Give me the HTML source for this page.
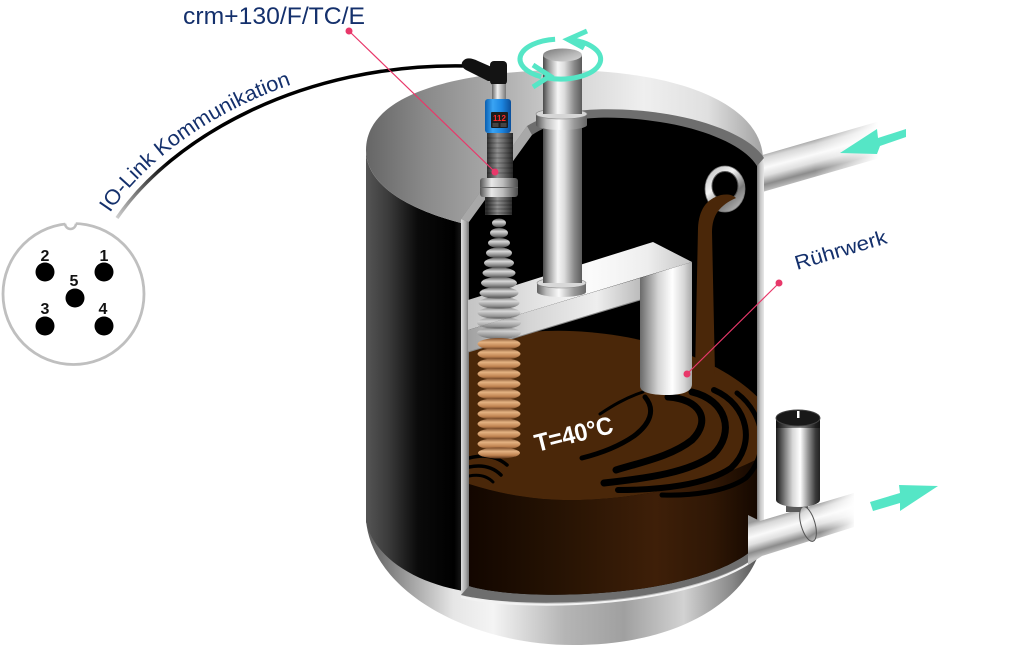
<!DOCTYPE html>
<html><head><meta charset="utf-8">
<style>
html,body{margin:0;padding:0;background:#fff;}
svg{display:block;}
</style></head><body>
<svg width="1024" height="645" viewBox="0 0 1024 645" xmlns="http://www.w3.org/2000/svg" font-family="Liberation Sans, sans-serif">
<defs>
<linearGradient id="gLid" gradientUnits="userSpaceOnUse" x1="366" y1="0" x2="763" y2="0">
<stop offset="0" stop-color="#666"/><stop offset=".15" stop-color="#8a8a8a"/><stop offset=".32" stop-color="#a9a9a9"/><stop offset=".5" stop-color="#d2d2d2"/><stop offset=".7" stop-color="#efefef"/><stop offset=".86" stop-color="#e0e0e0"/><stop offset="1" stop-color="#a2a2a2"/>
</linearGradient>
<linearGradient id="gBody" gradientUnits="userSpaceOnUse" x1="366" y1="0" x2="470" y2="0">
<stop offset="0" stop-color="#555"/><stop offset=".22" stop-color="#3a3a3a"/><stop offset=".5" stop-color="#0a0a0a"/><stop offset=".85" stop-color="#000"/><stop offset="1" stop-color="#333"/>
</linearGradient>
<linearGradient id="gDome" gradientUnits="userSpaceOnUse" x1="366" y1="0" x2="763" y2="0">
<stop offset="0" stop-color="#5a5a5a"/><stop offset=".1" stop-color="#9a9a9a"/><stop offset=".22" stop-color="#e6e6e6"/><stop offset=".32" stop-color="#f4f4f4"/><stop offset=".5" stop-color="#b5b5b5"/><stop offset=".65" stop-color="#a0a0a0"/><stop offset=".8" stop-color="#d2d2d2"/><stop offset=".92" stop-color="#8a8a8a"/><stop offset="1" stop-color="#4a4a4a"/>
</linearGradient>
<linearGradient id="gLeftBand" gradientUnits="userSpaceOnUse" x1="461" y1="0" x2="469" y2="0">
<stop offset="0" stop-color="#e0e0e0"/><stop offset=".6" stop-color="#a8a8a8"/><stop offset="1" stop-color="#707070"/>
</linearGradient>
<linearGradient id="gRightBand" gradientUnits="userSpaceOnUse" x1="757" y1="0" x2="764" y2="0">
<stop offset="0" stop-color="#7a7a7a"/><stop offset=".5" stop-color="#c8c8c8"/><stop offset="1" stop-color="#e8e8e8"/>
</linearGradient>
<linearGradient id="gLiqSide" gradientUnits="userSpaceOnUse" x1="468" y1="0" x2="757" y2="0">
<stop offset="0" stop-color="#120600"/><stop offset=".3" stop-color="#251203"/><stop offset=".65" stop-color="#3e1f08"/><stop offset=".85" stop-color="#2f1705"/><stop offset="1" stop-color="#150800"/>
</linearGradient>
<linearGradient id="gShaft" gradientUnits="userSpaceOnUse" x1="543" y1="0" x2="582" y2="0">
<stop offset="0" stop-color="#4a4a4a"/><stop offset=".15" stop-color="#9a9a9a"/><stop offset=".38" stop-color="#f6f6f6"/><stop offset=".55" stop-color="#dcdcdc"/><stop offset=".8" stop-color="#8a8a8a"/><stop offset="1" stop-color="#5a5a5a"/>
</linearGradient>
<linearGradient id="gCollar" gradientUnits="userSpaceOnUse" x1="536" y1="0" x2="587" y2="0">
<stop offset="0" stop-color="#555"/><stop offset=".2" stop-color="#bbb"/><stop offset=".45" stop-color="#fafafa"/><stop offset=".75" stop-color="#999"/><stop offset="1" stop-color="#666"/>
</linearGradient>
<linearGradient id="gCap" x1="0" y1="0" x2="1" y2="1">
<stop offset="0" stop-color="#777"/><stop offset=".6" stop-color="#b8b8b8"/><stop offset="1" stop-color="#d8d8d8"/>
</linearGradient>
<linearGradient id="gBeamTop" gradientUnits="userSpaceOnUse" x1="468" y1="0" x2="692" y2="0">
<stop offset="0" stop-color="#c4c4c4"/><stop offset=".55" stop-color="#fbfbfb"/><stop offset=".8" stop-color="#eeeeee"/><stop offset="1" stop-color="#c4c4c4"/>
</linearGradient>
<linearGradient id="gBeamFront" gradientUnits="userSpaceOnUse" x1="468" y1="0" x2="640" y2="0">
<stop offset="0" stop-color="#a0a0a0"/><stop offset=".35" stop-color="#d4d4d4"/><stop offset=".75" stop-color="#eeeeee"/><stop offset="1" stop-color="#bcbcbc"/>
</linearGradient>
<linearGradient id="gLeg" gradientUnits="userSpaceOnUse" x1="640" y1="0" x2="692" y2="0">
<stop offset="0" stop-color="#6a6a6a"/><stop offset=".35" stop-color="#d4d4d4"/><stop offset=".62" stop-color="#ffffff"/><stop offset=".85" stop-color="#d6d6d6"/><stop offset="1" stop-color="#a8a8a8"/>
</linearGradient>
<linearGradient id="gWave" x1="0" y1="0" x2="0" y2="1">
<stop offset="0" stop-color="#5a5a5a"/><stop offset=".35" stop-color="#d8d8d8"/><stop offset=".7" stop-color="#8a8a8a"/><stop offset="1" stop-color="#3a3a3a"/>
</linearGradient>
<linearGradient id="gTan" x1="0" y1="0" x2="0" y2="1">
<stop offset="0" stop-color="#7a4a28"/><stop offset=".35" stop-color="#e4b282"/><stop offset=".7" stop-color="#c08452"/><stop offset="1" stop-color="#5a3218"/>
</linearGradient>
<linearGradient id="gPipeIn" gradientUnits="userSpaceOnUse" x1="805" y1="141" x2="815" y2="178">
<stop offset="0" stop-color="#9a9a9a"/><stop offset=".15" stop-color="#d8d8d8"/><stop offset=".4" stop-color="#fafafa"/><stop offset=".6" stop-color="#e0e0e0"/><stop offset=".82" stop-color="#8c8c8c"/><stop offset="1" stop-color="#c0c0c0"/>
</linearGradient>
<linearGradient id="gPipeOut" gradientUnits="userSpaceOnUse" x1="800" y1="508" x2="810" y2="542">
<stop offset="0" stop-color="#9a9a9a"/><stop offset=".15" stop-color="#d8d8d8"/><stop offset=".4" stop-color="#fafafa"/><stop offset=".6" stop-color="#e0e0e0"/><stop offset=".82" stop-color="#8c8c8c"/><stop offset="1" stop-color="#c0c0c0"/>
</linearGradient>
<linearGradient id="gFadeIn" gradientUnits="userSpaceOnUse" x1="815" y1="0" x2="878" y2="0">
<stop offset="0" stop-color="#fff"/><stop offset="1" stop-color="#000"/>
</linearGradient>
<linearGradient id="gFadeOut" gradientUnits="userSpaceOnUse" x1="820" y1="0" x2="856" y2="0">
<stop offset="0" stop-color="#fff"/><stop offset="1" stop-color="#000"/>
</linearGradient>
<mask id="mIn" maskUnits="userSpaceOnUse" x="0" y="0" width="1024" height="645"><rect x="0" y="0" width="1024" height="645" fill="url(#gFadeIn)"/></mask>
<mask id="mOut" maskUnits="userSpaceOnUse" x="0" y="0" width="1024" height="645"><rect x="0" y="0" width="1024" height="645" fill="url(#gFadeOut)"/></mask>
<linearGradient id="gValve" gradientUnits="userSpaceOnUse" x1="776" y1="0" x2="820" y2="0">
<stop offset="0" stop-color="#1a1a1a"/><stop offset=".12" stop-color="#555"/><stop offset=".38" stop-color="#d8d8d8"/><stop offset=".55" stop-color="#ffffff"/><stop offset=".72" stop-color="#9a9a9a"/><stop offset=".9" stop-color="#3a3a3a"/><stop offset="1" stop-color="#222"/>
</linearGradient>
<linearGradient id="gBlue" gradientUnits="userSpaceOnUse" x1="485" y1="0" x2="511" y2="0">
<stop offset="0" stop-color="#0a5fb0"/><stop offset=".3" stop-color="#3aa4f4"/><stop offset=".65" stop-color="#1c86e0"/><stop offset="1" stop-color="#0b4f9a"/>
</linearGradient>
<linearGradient id="gSens" gradientUnits="userSpaceOnUse" x1="487" y1="0" x2="513" y2="0">
<stop offset="0" stop-color="#2e2e2e"/><stop offset=".4" stop-color="#8e8e8e"/><stop offset=".6" stop-color="#707070"/><stop offset="1" stop-color="#262626"/>
</linearGradient>
<linearGradient id="gNut" gradientUnits="userSpaceOnUse" x1="480" y1="0" x2="518" y2="0">
<stop offset="0" stop-color="#555"/><stop offset=".3" stop-color="#e8e8e8"/><stop offset=".6" stop-color="#bdbdbd"/><stop offset="1" stop-color="#4a4a4a"/>
</linearGradient>
<linearGradient id="gNeck" gradientUnits="userSpaceOnUse" x1="492" y1="0" x2="506" y2="0">
<stop offset="0" stop-color="#666"/><stop offset=".4" stop-color="#f0f0f0"/><stop offset="1" stop-color="#777"/>
</linearGradient>
<linearGradient id="gRing" gradientUnits="userSpaceOnUse" x1="705" y1="168" x2="745" y2="212">
<stop offset="0" stop-color="#b8b8b8"/><stop offset=".35" stop-color="#f4f4f4"/><stop offset=".65" stop-color="#7a7a7a"/><stop offset="1" stop-color="#cfcfcf"/>
</linearGradient>
<linearGradient id="gCable" gradientUnits="userSpaceOnUse" x1="117" y1="218" x2="165" y2="160">
<stop offset="0" stop-color="#cfcfcf"/><stop offset="1" stop-color="#000"/>
</linearGradient>
<clipPath id="cInt"><path d="M469,222 L532,135 C560,116 610,114 660,122 C706,129 745,146 757,166 L757,546 C700,600 520,602 469,586 Z"/></clipPath>
<path id="ioPath" d="M110,213 C163,134 294,54 466,58"/>
</defs>

<!-- connector diagram -->
<circle cx="73.5" cy="294" r="70.5" fill="#fff" stroke="#bfbfbf" stroke-width="2.8"/>
<circle cx="70.5" cy="224" r="5.5" fill="#fff"/>
<path d="M65,223.5 A5.5,5.5 0 0 0 76,223.5" fill="none" stroke="#bfbfbf" stroke-width="2.5"/>
<g fill="#000">
<circle cx="45" cy="272" r="9.5"/><circle cx="104" cy="272" r="9.5"/><circle cx="75" cy="298" r="9.5"/><circle cx="45" cy="326" r="9.5"/><circle cx="104" cy="326" r="9.5"/>
</g>
<g font-size="16" font-weight="bold" fill="#111" text-anchor="middle">
<text x="45" y="261">2</text><text x="104" y="261">1</text><text x="74" y="286">5</text><text x="45" y="314">3</text><text x="103" y="314">4</text>
</g>

<!-- cable -->
<path d="M117,218 C170,140 300,62 468,66" fill="none" stroke="url(#gCable)" stroke-width="3.5"/>
<text font-size="21" fill="#14306c"><textPath href="#ioPath" textLength="226" lengthAdjust="spacingAndGlyphs">IO-Link Kommunikation</textPath></text>

<!-- inlet pipe -->
<g mask="url(#mIn)">
<polygon points="752,158 880,121 880,158 752,195" fill="url(#gPipeIn)"/>
</g>

<!-- dome -->
<path d="M366,470 L366,520 C372,592 470,645 573,645 C680,645 750,600 763,540 L763,470 Z" fill="url(#gDome)"/>
<!-- body -->
<path d="M366,150 C366,205 470,234 560,236 C650,238 763,210 763,160 L763,545 C700,600 520,605 470,592 C420,585 375,560 366,522 Z" fill="url(#gBody)"/>
<!-- lid -->
<path d="M366,150 C366,100 440,72 560,70 C680,70 763,105 763,160 C763,210 650,238 560,236 C470,234 366,205 366,150 Z" fill="url(#gLid)"/>

<!-- cut -->
<path d="M461,219 L527,126 C555,108 610,106 660,113 C710,120 752,138 764,158 L764,550 C700,607 520,610 461,595 Z" fill="#6e6e6e"/>
<polygon points="461,219 469,222 469,586 461,595" fill="url(#gLeftBand)"/>
<polygon points="461,219 527,126 532,135 469,222" fill="#a8a8a8"/>
<polygon points="757,166 764,158 764,550 757,546" fill="url(#gRightBand)"/>
<path d="M461,597 C520,612 700,609 764,552" fill="none" stroke="#f2f2f2" stroke-width="2"/>
<path d="M469,222 L532,135 C560,116 610,114 660,122 C706,129 745,146 757,166 L757,546 C700,600 520,602 469,586 Z" fill="#000"/>

<g clip-path="url(#cInt)">
<!-- liquid -->
<path d="M460,481 C500,495 540,501 580,500 C650,498 720,480 765,455 L765,620 L460,620 Z" fill="url(#gLiqSide)"/>
<path d="M460,350 C500,330 560,326 620,336 C680,346 735,370 765,405 L765,455 C720,480 650,498 580,500 C540,501 500,495 460,481 Z" fill="#4a2709"/>
<!-- swirls -->
<g fill="none" stroke="#000" stroke-linecap="round">
<path d="M668,397 C700,399 712,420 692,440 C672,456 642,462 616,470" stroke-width="7"/>
<path d="M692,392 C726,400 736,432 713,455 C690,472 650,478 604,483" stroke-width="7"/>
<path d="M714,390 C749,405 756,445 731,468 C706,485 660,490 618,490" stroke-width="6"/>
<path d="M737,393 C766,415 769,455 746,478 C726,492 690,496 662,495" stroke-width="5"/>
<path d="M645,397 C656,410 650,424 634,436 C618,447 598,454 582,458" stroke-width="5"/>
<path d="M643,392 C625,398 612,406 600,414" stroke-width="3"/>
<path d="M469,458 Q492,452 507,465" stroke-width="3.5"/>
<path d="M469,467 Q489,463 501,475" stroke-width="3.5"/>
<path d="M469,476 Q484,473 493,482" stroke-width="3"/>
</g>
</g>

<!-- ring + stream -->
<ellipse cx="725" cy="189" rx="20" ry="23" fill="url(#gRing)" stroke="#777" stroke-width="0.8"/>
<ellipse cx="725" cy="186" rx="13" ry="14.5" fill="#000" stroke="#555" stroke-width="1"/>
<path d="M721,195 C706,199 699,210 698,228 L695,374 L715,374 L712,232 C712,215 720,205 736,198 C732,194 726,194 721,195 Z" fill="#4a2709"/>

<!-- beam -->
<polygon points="468,300 653,242 692,262 468,330" fill="url(#gBeamTop)"/>
<polygon points="468,330 640,278 640,300 468,352" fill="url(#gBeamFront)"/>
<path d="M468,352 L640,300" stroke="#888" stroke-width="1"/>
<path d="M640,278 L692,262 L692,384 C692,392 682,395 667,395 C650,395 640,392 640,386 Z" fill="url(#gLeg)"/>

<!-- shaft -->
<rect x="543" y="55" width="39" height="232" fill="url(#gShaft)"/>
<ellipse cx="562.5" cy="55" rx="19.5" ry="6.5" fill="url(#gCap)"/>
<rect x="536" y="114" width="51" height="11" fill="url(#gCollar)"/>
<ellipse cx="561.5" cy="125" rx="25.5" ry="5" fill="url(#gCollar)"/>
<ellipse cx="561.5" cy="114" rx="25.5" ry="5" fill="#d6d6d6" stroke="#888" stroke-width="0.6"/>
<rect x="543" y="108" width="39" height="6" fill="url(#gShaft)"/>
<rect x="537" y="283" width="49" height="9" fill="url(#gCollar)"/>
<ellipse cx="561.5" cy="292" rx="24.5" ry="5" fill="url(#gCollar)"/>
<ellipse cx="561.5" cy="283" rx="24.5" ry="5" fill="#d8d8d8" stroke="#888" stroke-width="0.6"/>
<rect x="543" y="270" width="39" height="13" fill="url(#gShaft)"/>

<!-- waves -->
<g>
<ellipse cx="499" cy="223" rx="7" ry="4.5" fill="url(#gWave)"/>
<ellipse cx="499" cy="233" rx="9" ry="5" fill="url(#gWave)"/>
<ellipse cx="499" cy="243" rx="11" ry="5" fill="url(#gWave)"/>
<ellipse cx="499" cy="253" rx="13" ry="5.5" fill="url(#gWave)"/>
<ellipse cx="499" cy="263" rx="15" ry="5.5" fill="url(#gWave)"/>
<ellipse cx="499" cy="273" rx="16.5" ry="5.5" fill="url(#gWave)"/>
<ellipse cx="499" cy="283" rx="18" ry="6" fill="url(#gWave)"/>
<ellipse cx="499" cy="293" rx="19.5" ry="6" fill="url(#gWave)"/>
<ellipse cx="499" cy="303" rx="20.5" ry="6" fill="url(#gWave)" opacity=".8"/>
<ellipse cx="499" cy="313" rx="21.5" ry="6" fill="url(#gWave)" opacity=".7"/>
<ellipse cx="499" cy="323" rx="22" ry="6" fill="url(#gWave)" opacity=".6"/>
<ellipse cx="499" cy="333" rx="22" ry="6" fill="url(#gWave)" opacity=".6"/>
<ellipse cx="499" cy="344" rx="21.5" ry="6" fill="url(#gTan)"/>
<ellipse cx="499" cy="354" rx="21.5" ry="6" fill="url(#gTan)"/>
<ellipse cx="499" cy="364" rx="21.5" ry="6" fill="url(#gTan)"/>
<ellipse cx="499" cy="374" rx="21.5" ry="6" fill="url(#gTan)"/>
<ellipse cx="499" cy="384" rx="21.5" ry="6" fill="url(#gTan)"/>
<ellipse cx="499" cy="394" rx="21.5" ry="6" fill="url(#gTan)"/>
<ellipse cx="499" cy="404" rx="21.5" ry="6" fill="url(#gTan)"/>
<ellipse cx="499" cy="414" rx="21.5" ry="6" fill="url(#gTan)"/>
<ellipse cx="499" cy="424" rx="21.5" ry="6" fill="url(#gTan)"/>
<ellipse cx="499" cy="434" rx="21.5" ry="6" fill="url(#gTan)"/>
<ellipse cx="499" cy="444" rx="21.5" ry="6" fill="url(#gTan)"/>
<ellipse cx="499" cy="453" rx="21" ry="5.5" fill="url(#gTan)"/>
</g>

<!-- sensor -->
<path d="M463,61 C466,57 472,58 478,61 L494,68 L494,81 L488,81 L466,70 C461,67 461,63 463,61 Z" fill="#111"/>
<rect x="490" y="61" width="17" height="24" rx="4" fill="#141414"/>
<rect x="492" y="84" width="14" height="16" fill="url(#gNeck)"/>
<rect x="485" y="99" width="26" height="34" rx="3" fill="url(#gBlue)"/>
<rect x="491" y="112" width="17" height="16" rx="1" fill="#1c1c1c"/>
<text x="499.5" y="121" font-size="8" font-weight="bold" fill="#ff2a2a" text-anchor="middle">112</text>
<rect x="492.5" y="123" width="6" height="4" fill="#444"/><rect x="500.5" y="123" width="6" height="4" fill="#444"/>
<rect x="487" y="133" width="26" height="46" fill="url(#gSens)"/>
<g stroke="#000" stroke-opacity=".25" stroke-width="1">
<path d="M487,138H513M487,143H513M487,148H513M487,153H513M487,158H513M487,163H513M487,168H513M487,173H513"/>
</g>
<rect x="480" y="178" width="38" height="19" rx="3" fill="url(#gNut)"/>
<path d="M480,187.5H518" stroke="#666" stroke-width="1"/>
<rect x="485" y="197" width="27" height="18" fill="url(#gSens)"/>
<g stroke="#000" stroke-opacity=".3" stroke-width="1"><path d="M485,201H512M485,205H512M485,209H512M485,213H512"/></g>

<!-- rotation arrow -->
<g fill="none" stroke="#55e6c6" stroke-width="5">
<path d="M555.1,39.2 A40,20 0 0 0 541.2,76.7"/>
<path d="M547.6,78 A40,20 0 1 0 567.6,39.4"/>
<polyline points="587,31 568,39.5 584,48"/>
<polyline points="533,65 550,76 533,87"/>
</g>

<!-- outlet pipe -->
<g mask="url(#mOut)">
<polygon points="748,515 760,521 854,493 854,527 762,556 748,565" fill="url(#gPipeOut)"/>
</g>
<rect x="786" y="498" width="22" height="14" fill="#5a5a5a"/>
<ellipse cx="808" cy="524" rx="7" ry="18" transform="rotate(-16 808 524)" fill="url(#gPipeOut)" stroke="#555" stroke-width="1"/>
<!-- valve -->
<rect x="776" y="418" width="44" height="82" fill="url(#gValve)"/>
<ellipse cx="798" cy="500" rx="22" ry="7" fill="url(#gValve)"/>
<rect x="776" y="418" width="44" height="10" fill="#000" opacity=".45"/>
<ellipse cx="798" cy="418" rx="22" ry="8" fill="#181818" stroke="#444" stroke-width="1"/>
<rect x="797" y="411" width="2.5" height="7" fill="#fff"/>

<!-- arrows -->
<polygon points="840,153 877,129 878,138 906,129 906,137 880,146 877,154" fill="#55e6c6"/>
<polygon points="870,502 900,493 899,485 938,486 900,511 900,503 873,511" fill="#55e6c6"/>

<!-- leader lines -->
<g stroke="#e8386a" stroke-width="1.2"><line x1="349" y1="31" x2="495" y2="172"/><line x1="779" y1="283" x2="687" y2="374"/></g>
<g fill="#e8386a"><circle cx="349" cy="31" r="3.5"/><circle cx="495" cy="172" r="3.5"/><circle cx="779" cy="283" r="3.5"/><circle cx="687" cy="374" r="3.5"/></g>

<!-- labels -->
<text x="183" y="24" font-size="24" fill="#14306c" textLength="182" lengthAdjust="spacingAndGlyphs">crm+130/F/TC/E</text>
<text x="797" y="270" font-size="20" fill="#14306c" transform="rotate(-16.5 797 270)" textLength="95" lengthAdjust="spacingAndGlyphs">Rührwerk</text>
<text x="537" y="452" font-size="25" font-weight="bold" fill="#fff" transform="rotate(-14 537 452)" textLength="80" lengthAdjust="spacingAndGlyphs">T=40°C</text>
</svg>
</body></html>
